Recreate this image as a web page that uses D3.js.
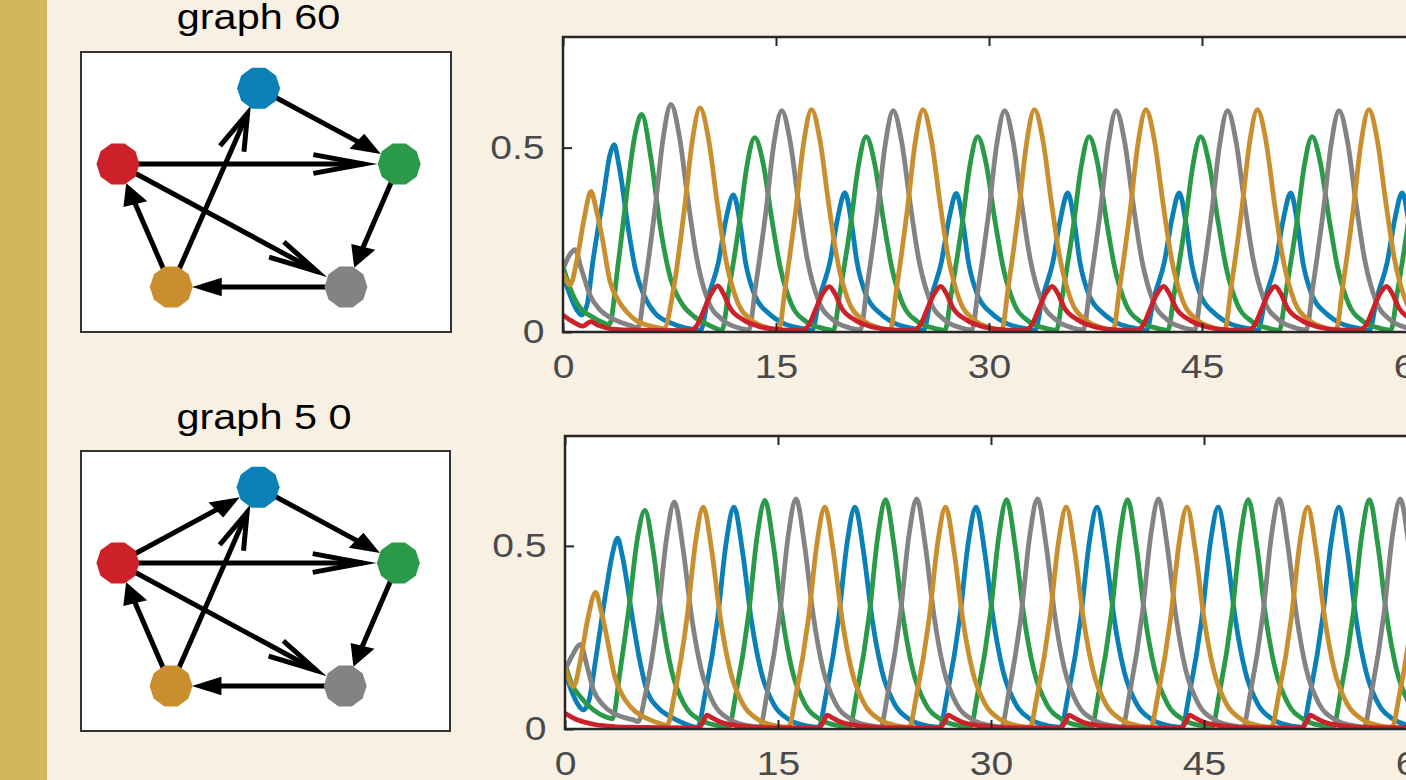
<!DOCTYPE html>
<html>
<head>
<meta charset="utf-8">
<script src="https://cdn.jsdelivr.net/npm/d3@7"></script>
<style>
  body { margin: 0; background: #f8f1e3; overflow: hidden; }
  svg { display: block; }
  text { font-family: "Liberation Sans", Arial, Helvetica, sans-serif; }
</style>
</head>
<body>
<div id="chart"></div>
<script>
// Graph layout (abstract units) and colours
const nodeNames = ["blue", "red", "green", "orange", "gray"];
const nodeX = [0, -0.95, 0.95, -0.59, 0.59];
const nodeY = [1, 0.31, 0.31, -0.81, -0.81];
const nodeColors = { blue: "#0a80b6", red: "#cc2128", green: "#2a9a48", orange: "#c98f2e", gray: "#838383" };

// edges: from, to, head type
const edges60 = [
  ["blue", "green", "filled"], ["red", "green", "open"], ["green", "gray", "filled"],
  ["red", "gray", "open"], ["gray", "orange", "filled"], ["orange", "red", "filled"],
  ["orange", "blue", "open"]
];
const edges50 = [
  ["blue", "green", "filled"], ["red", "green", "open"], ["green", "gray", "filled"],
  ["red", "gray", "open"], ["gray", "orange", "filled"], ["orange", "red", "filled"],
  ["orange", "blue", "open"], ["red", "blue", "filled"]
];

const graphTitles = ["graph 60", "graph 5 0"];
const xTicks = [0, 15, 30, 45, 60];
const yTicks = [0, 0.5];
const drawOrder = ["blue", "green", "gray", "orange", "red"];

// time series, graph 60: [t, value]
const blue60 = [
  [0,0.155],[0.5,0.1],[1,0.058],[1.3,0.046],[1.7,0.075],[2.1,0.19],[2.85,0.37],[3.3,0.48],[3.6,0.508],[3.95,0.45],[4.6,0.28],[5.1,0.17],[5.7,0.1],[6.5,0.05],[7.5,0.026],[8.6,0.011],[9.7,0.005],
  [10.2,0.09],[10.95,0.19],[11.5,0.31],[12,0.372],[12.45,0.3],[12.85,0.19],[13.5,0.1],[14.5,0.05],[15.6,0.022],[16.8,0.01],[17.55,0.005],
  [18.05,0.09],[18.8,0.19],[19.35,0.31],[19.85,0.378],[20.3,0.3],[20.7,0.19],[21.35,0.1],[22.35,0.05],[23.45,0.022],[24.65,0.01],[25.4,0.005],
  [25.9,0.09],[26.65,0.19],[27.2,0.31],[27.7,0.376],[28.15,0.3],[28.55,0.19],[29.2,0.1],[30.2,0.05],[31.3,0.022],[32.5,0.01],[33.25,0.005],
  [33.75,0.09],[34.5,0.19],[35.05,0.31],[35.55,0.377],[36,0.3],[36.4,0.19],[37.05,0.1],[38.05,0.05],[39.15,0.022],[40.35,0.01],[41.1,0.005],
  [41.6,0.09],[42.35,0.19],[42.9,0.31],[43.4,0.377],[43.85,0.3],[44.25,0.19],[44.9,0.1],[45.9,0.05],[47,0.022],[48.2,0.01],[48.95,0.005],
  [49.45,0.09],[50.2,0.19],[50.75,0.31],[51.25,0.377],[51.7,0.3],[52.1,0.19],[52.75,0.1],[53.75,0.05],[54.85,0.022],[56.05,0.01],[56.8,0.005],
  [57.3,0.09],[58.05,0.19],[58.6,0.31],[59.1,0.377],[59.55,0.3],[59.95,0.19],[60.6,0.1],[61.6,0.05]
];
const green60 = [
  [0,0.177],[0.7,0.1],[1.2,0.066],[2.1,0.04],[2.8,0.026],[3.25,0.02],[3.9,0.19],[4.48,0.372],[5.05,0.53],[5.54,0.59],[6.2,0.47],[6.83,0.29],[7.57,0.146],[8.4,0.075],[9.3,0.04],[10.2,0.02],
  [11.2,0.005],[11.65,0.106],[12.4,0.29],[12.95,0.45],[13.5,0.527],[14.1,0.456],[14.7,0.307],[15.3,0.175],[16.1,0.074],[17.1,0.029],[18.3,0.01],
  [19.05,0.005],[19.5,0.106],[20.25,0.29],[20.8,0.45],[21.35,0.53],[21.95,0.456],[22.55,0.307],[23.15,0.175],[23.95,0.074],[24.95,0.029],[26.15,0.01],
  [26.9,0.005],[27.35,0.106],[28.1,0.29],[28.65,0.45],[29.2,0.53],[29.8,0.456],[30.4,0.307],[31,0.175],[31.8,0.074],[32.8,0.029],[34,0.01],
  [34.75,0.005],[35.2,0.106],[35.95,0.29],[36.5,0.45],[37.05,0.53],[37.65,0.456],[38.25,0.307],[38.85,0.175],[39.65,0.074],[40.65,0.029],[41.85,0.01],
  [42.6,0.005],[43.05,0.106],[43.8,0.29],[44.35,0.45],[44.9,0.53],[45.5,0.456],[46.1,0.307],[46.7,0.175],[47.5,0.074],[48.5,0.029],[49.7,0.01],
  [50.45,0.005],[50.9,0.106],[51.65,0.29],[52.2,0.45],[52.75,0.53],[53.35,0.456],[53.95,0.307],[54.55,0.175],[55.35,0.074],[56.35,0.029],[57.55,0.01],
  [58.3,0.005],[58.75,0.106],[59.5,0.29],[60.05,0.45],[60.6,0.53],[61.2,0.456]
];
const gray60 = [
  [0,0.17],[0.4,0.205],[0.85,0.223],[1.3,0.17],[1.9,0.1],[2.6,0.06],[3.3,0.04],[4,0.027],[4.7,0.018],[5.3,0.012],
  [5.75,0.123],[6.5,0.34],[7.05,0.525],[7.6,0.617],[8.2,0.53],[8.8,0.358],[9.4,0.204],[10.2,0.086],[11.2,0.034],[12.4,0.011],
  [13.1,0.006],[13.55,0.12],[14.3,0.33],[14.85,0.51],[15.4,0.6],[16,0.516],[16.6,0.348],[17.2,0.198],[18,0.084],[19,0.033],[20.2,0.011],
  [20.95,0.006],[21.4,0.12],[22.15,0.33],[22.7,0.51],[23.25,0.6],[23.85,0.516],[24.45,0.348],[25.05,0.198],[25.85,0.084],[26.85,0.033],[28.05,0.011],
  [28.8,0.006],[29.25,0.12],[30,0.33],[30.55,0.51],[31.1,0.6],[31.7,0.516],[32.3,0.348],[32.9,0.198],[33.7,0.084],[34.7,0.033],[35.9,0.011],
  [36.65,0.006],[37.1,0.12],[37.85,0.33],[38.4,0.51],[38.95,0.6],[39.55,0.516],[40.15,0.348],[40.75,0.198],[41.55,0.084],[42.55,0.033],[43.75,0.011],
  [44.5,0.006],[44.95,0.12],[45.7,0.33],[46.25,0.51],[46.8,0.6],[47.4,0.516],[48,0.348],[48.6,0.198],[49.4,0.084],[50.4,0.033],[51.6,0.011],
  [52.35,0.006],[52.8,0.12],[53.55,0.33],[54.1,0.51],[54.65,0.6],[55.25,0.516],[55.85,0.348],[56.45,0.198],[57.25,0.084],[58.25,0.033],[59.45,0.011],
  [60.2,0.006],[60.65,0.12]
];
const orange60 = [
  [0,0.16],[0.5,0.128],[1,0.2],[1.5,0.31],[1.97,0.381],[2.35,0.33],[2.72,0.264],[3.31,0.137],[3.9,0.085],[4.48,0.055],[5.2,0.03],[5.9,0.019],[6.5,0.013],[7.1,0.009],
  [7.8,0.12],[8.55,0.334],[9.1,0.517],[9.65,0.608],[10.25,0.523],[10.85,0.353],[11.45,0.2],[12.25,0.085],[13.25,0.033],[14.45,0.011],
  [15.2,0.006],[15.65,0.12],[16.4,0.332],[16.95,0.513],[17.5,0.603],[18.1,0.519],[18.7,0.35],[19.3,0.199],[20.1,0.084],[21.1,0.033],[22.3,0.011],
  [23.05,0.006],[23.5,0.12],[24.25,0.332],[24.8,0.513],[25.35,0.603],[25.95,0.519],[26.55,0.35],[27.15,0.199],[27.95,0.084],[28.95,0.033],[30.15,0.011],
  [30.9,0.006],[31.35,0.12],[32.1,0.332],[32.65,0.513],[33.2,0.603],[33.8,0.519],[34.4,0.35],[35,0.199],[35.8,0.084],[36.8,0.033],[38,0.011],
  [38.75,0.006],[39.2,0.12],[39.95,0.332],[40.5,0.513],[41.05,0.603],[41.65,0.519],[42.25,0.35],[42.85,0.199],[43.65,0.084],[44.65,0.033],[45.85,0.011],
  [46.6,0.006],[47.05,0.12],[47.8,0.332],[48.35,0.513],[48.9,0.603],[49.5,0.519],[50.1,0.35],[50.7,0.199],[51.5,0.084],[52.5,0.033],[53.7,0.011],
  [54.45,0.006],[54.9,0.12],[55.65,0.332],[56.2,0.513],[56.75,0.603],[57.35,0.519],[57.95,0.35],[58.55,0.199],[59.35,0.084],[60.35,0.033],[61.55,0.011]
];
const red60 = [
  [0,0.046],[0.6,0.03],[1.4,0.016],[1.95,0.028],[2.5,0.018],[3.5,0.008],[5,0.005],
  [9,0.004],[9.5,0.022],[9.95,0.062],[10.45,0.105],[10.9,0.125],[11.3,0.104],[11.75,0.066],[12.7,0.033],[13.8,0.015],[15.4,0.006],
  [16.85,0.004],[17.35,0.022],[17.8,0.062],[18.3,0.105],[18.75,0.123],[19.15,0.104],[19.6,0.066],[20.55,0.033],[21.65,0.015],[23.25,0.006],
  [24.7,0.004],[25.2,0.022],[25.65,0.062],[26.15,0.105],[26.6,0.124],[27,0.104],[27.45,0.066],[28.4,0.033],[29.5,0.015],[31.1,0.006],
  [32.55,0.004],[33.05,0.022],[33.5,0.062],[34,0.105],[34.45,0.124],[34.85,0.104],[35.3,0.066],[36.25,0.033],[37.35,0.015],[38.95,0.006],
  [40.4,0.004],[40.9,0.022],[41.35,0.062],[41.85,0.105],[42.3,0.124],[42.7,0.104],[43.15,0.066],[44.1,0.033],[45.2,0.015],[46.8,0.006],
  [48.25,0.004],[48.75,0.022],[49.2,0.062],[49.7,0.105],[50.15,0.124],[50.55,0.104],[51,0.066],[51.95,0.033],[53.05,0.015],[54.65,0.006],
  [56.1,0.004],[56.6,0.022],[57.05,0.062],[57.55,0.105],[58,0.124],[58.4,0.104],[58.85,0.066],[59.8,0.033],[60.9,0.015]
];

// time series, graph 5 0
const blue50 = [
  [0,0.157],[0.5,0.1],[1,0.062],[1.3,0.052],[1.7,0.08],[2.2,0.2],[2.9,0.38],[3.35,0.48],[3.7,0.521],[4.05,0.47],[4.8,0.29],[5.3,0.18],[5.75,0.107],[6.5,0.06],[7.4,0.034],[8.4,0.015],
  [9.35,0.005],[9.85,0.091],[10.75,0.303],[11.35,0.509],[11.9,0.606],[12.5,0.485],[13.1,0.303],[13.8,0.158],[14.7,0.067],[15.8,0.025],[17.1,0.008],
  [17.87,0.005],[18.37,0.091],[19.27,0.303],[19.87,0.509],[20.42,0.606],[21.02,0.485],[21.62,0.303],[22.32,0.158],[23.22,0.067],[24.32,0.025],[25.62,0.008],
  [26.4,0.005],[26.9,0.091],[27.8,0.303],[28.4,0.509],[28.95,0.606],[29.55,0.485],[30.15,0.303],[30.85,0.158],[31.75,0.067],[32.85,0.025],[34.15,0.008],
  [34.92,0.005],[35.42,0.091],[36.32,0.303],[36.92,0.509],[37.47,0.606],[38.07,0.485],[38.67,0.303],[39.37,0.158],[40.27,0.067],[41.37,0.025],[42.67,0.008],
  [43.45,0.005],[43.95,0.091],[44.85,0.303],[45.45,0.509],[46,0.606],[46.6,0.485],[47.2,0.303],[47.9,0.158],[48.8,0.067],[49.9,0.025],[51.2,0.008],
  [51.95,0.005],[52.45,0.091],[53.35,0.303],[53.95,0.509],[54.5,0.606],[55.1,0.485],[55.7,0.303],[56.4,0.158],[57.3,0.067],[58.4,0.025],[59.7,0.008],
  [60.45,0.005],[60.95,0.091]
];
const green50 = [
  [0,0.18],[0.5,0.12],[1.06,0.089],[2,0.052],[2.8,0.034],[3.35,0.028],[3.85,0.15],[4.5,0.33],[5.1,0.52],[5.63,0.597],[6.2,0.49],[6.8,0.31],[7.5,0.16],[8.4,0.067],[9.5,0.025],[10.8,0.009],
  [11.53,0.005],[12.03,0.094],[12.93,0.313],[13.53,0.526],[14.08,0.624],[14.68,0.5],[15.28,0.313],[15.98,0.163],[16.88,0.069],[17.98,0.026],[19.28,0.009],
  [20.03,0.005],[20.53,0.094],[21.43,0.313],[22.03,0.526],[22.58,0.626],[23.18,0.5],[23.78,0.313],[24.48,0.163],[25.38,0.069],[26.48,0.026],[27.78,0.009],
  [28.55,0.005],[29.05,0.094],[29.95,0.313],[30.55,0.526],[31.1,0.626],[31.7,0.5],[32.3,0.313],[33,0.163],[33.9,0.069],[35,0.026],[36.3,0.009],
  [37.07,0.005],[37.57,0.094],[38.47,0.313],[39.07,0.526],[39.62,0.626],[40.22,0.5],[40.82,0.313],[41.52,0.163],[42.42,0.069],[43.52,0.026],[44.82,0.009],
  [45.57,0.005],[46.07,0.094],[46.97,0.313],[47.57,0.526],[48.12,0.626],[48.72,0.5],[49.32,0.313],[50.02,0.163],[50.92,0.069],[52.02,0.026],[53.32,0.009],
  [54.1,0.005],[54.6,0.094],[55.5,0.313],[56.1,0.526],[56.65,0.626],[57.25,0.5],[57.85,0.313],[58.55,0.163],[59.45,0.069],[60.55,0.026]
];
const gray50 = [
  [0,0.16],[0.5,0.2],[1.1,0.231],[1.5,0.18],[2,0.107],[2.7,0.065],[3.4,0.043],[4.1,0.032],[4.8,0.025],[5.15,0.02],
  [5.65,0.093],[6.55,0.31],[7.15,0.52],[7.7,0.62],[8.3,0.496],[8.9,0.31],[9.6,0.161],[10.5,0.068],[11.6,0.026],[12.9,0.009],
  [13.72,0.005],[14.22,0.094],[15.12,0.314],[15.72,0.528],[16.27,0.628],[16.87,0.502],[17.47,0.314],[18.17,0.163],[19.07,0.069],[20.17,0.026],[21.47,0.009],
  [22.22,0.005],[22.72,0.094],[23.62,0.314],[24.22,0.528],[24.77,0.628],[25.37,0.502],[25.97,0.314],[26.67,0.163],[27.57,0.069],[28.67,0.026],[29.97,0.009],
  [30.73,0.005],[31.23,0.094],[32.13,0.314],[32.73,0.528],[33.28,0.628],[33.88,0.502],[34.48,0.314],[35.18,0.163],[36.08,0.069],[37.18,0.026],[38.48,0.009],
  [39.25,0.005],[39.75,0.094],[40.65,0.314],[41.25,0.528],[41.8,0.628],[42.4,0.502],[43,0.314],[43.7,0.163],[44.6,0.069],[45.7,0.026],[47,0.009],
  [47.75,0.005],[48.25,0.094],[49.15,0.314],[49.75,0.528],[50.3,0.628],[50.9,0.502],[51.5,0.314],[52.2,0.163],[53.1,0.069],[54.2,0.026],[55.5,0.009],
  [56.27,0.005],[56.77,0.094],[57.67,0.314],[58.27,0.528],[58.82,0.628],[59.42,0.502],[60.02,0.314],[60.72,0.163]
];
const orange50 = [
  [0,0.167],[0.6,0.116],[1.1,0.19],[1.6,0.3],[2.16,0.373],[2.5,0.33],[2.93,0.254],[3.5,0.144],[4,0.095],[4.6,0.061],[5.3,0.038],[6,0.025],[6.6,0.016],[7.2,0.01],
  [7.69,0.091],[8.59,0.303],[9.19,0.509],[9.74,0.606],[10.34,0.485],[10.94,0.303],[11.64,0.158],[12.54,0.067],[13.64,0.025],[14.94,0.008],
  [15.75,0.005],[16.25,0.091],[17.15,0.303],[17.75,0.509],[18.3,0.606],[18.9,0.485],[19.5,0.303],[20.2,0.158],[21.1,0.067],[22.2,0.025],[23.5,0.008],
  [24.25,0.005],[24.75,0.091],[25.65,0.303],[26.25,0.509],[26.8,0.606],[27.4,0.485],[28,0.303],[28.7,0.158],[29.6,0.067],[30.7,0.025],[32,0.008],
  [32.75,0.005],[33.25,0.091],[34.15,0.303],[34.75,0.509],[35.3,0.606],[35.9,0.485],[36.5,0.303],[37.2,0.158],[38.1,0.067],[39.2,0.025],[40.5,0.008],
  [41.25,0.005],[41.75,0.091],[42.65,0.303],[43.25,0.509],[43.8,0.606],[44.4,0.485],[45,0.303],[45.7,0.158],[46.6,0.067],[47.7,0.025],[49,0.008],
  [49.75,0.005],[50.25,0.091],[51.15,0.303],[51.75,0.509],[52.3,0.606],[52.9,0.485],[53.5,0.303],[54.2,0.158],[55.1,0.067],[56.2,0.025],[57.5,0.008],
  [58.25,0.005],[58.75,0.091],[59.65,0.303],[60.25,0.509],[60.8,0.606]
];
const red50 = [
  [0,0.043],[0.5,0.032],[1,0.023],[2,0.013],[3,0.008],[4.5,0.005],[6.5,0.004],
  [9.4,0.003],[9.7,0.018],[10,0.038],[10.3,0.032],[10.9,0.02],[11.8,0.011],[13,0.006],[14.5,0.004],
  [17.87,0.003],[18.17,0.018],[18.47,0.038],[18.77,0.032],[19.37,0.02],[20.27,0.011],[21.47,0.006],[22.97,0.004],
  [26.4,0.003],[26.7,0.018],[27,0.038],[27.3,0.032],[27.9,0.02],[28.8,0.011],[30,0.006],[31.5,0.004],
  [34.9,0.003],[35.2,0.018],[35.5,0.038],[35.8,0.032],[36.4,0.02],[37.3,0.011],[38.5,0.006],[40,0.004],
  [43.4,0.003],[43.7,0.018],[44,0.038],[44.3,0.032],[44.9,0.02],[45.8,0.011],[47,0.006],[48.5,0.004],
  [51.9,0.003],[52.2,0.018],[52.5,0.038],[52.8,0.032],[53.4,0.02],[54.3,0.011],[55.5,0.006],[57,0.004],
  [60.4,0.003],[60.7,0.018],[61,0.038]
];

const rowSeries = [
  { blue: blue60, green: green60, gray: gray60, orange: orange60, red: red60 },
  { blue: blue50, green: green50, gray: gray50, orange: orange50, red: red50 }
];
const rowEdges = [edges60, edges50];

// Layout
const dimensions = {
  width: 1406,
  height: 780,
  strip: 47,
  textStretch: 1.15,
  nodeR: 21.5,
  rows: [
    { title: { x: 258.5, y: 29 }, graph: { left: 81, right: 451, top: 52, bottom: 332 }, plot: { left: 563, top: 37, bottom: 332 } },
    { title: { x: 264, y: 429 }, graph: { left: 81, right: 450, top: 451, bottom: 731 }, plot: { left: 565, top: 436, bottom: 729 } }
  ]
};

const wrapper = d3.select("#chart")
  .append("svg")
  .attr("width", dimensions.width)
  .attr("height", dimensions.height);

wrapper.append("rect")
  .attr("width", dimensions.width).attr("height", dimensions.height)
  .attr("fill", "#f8f1e3");

wrapper.append("rect")
  .attr("width", dimensions.strip).attr("height", dimensions.height)
  .attr("fill", "#d4b65c");

dimensions.rows.forEach((row, i) => {
  // title
  wrapper.append("text")
    .text(graphTitles[i])
    .attr("transform", `translate(${row.title.x},${row.title.y}) scale(${dimensions.textStretch},1)`)
    .attr("text-anchor", "middle")
    .attr("font-size", 36)
    .attr("fill", "#000");

  drawGraph(row.graph, rowEdges[i]);
  drawPlot(row.plot, rowSeries[i], i);
});

function drawGraph(box, edges) {
  const gx = d3.scaleLinear().domain([-1.2, 1.3]).range([box.left, box.right]);
  const gy = d3.scaleLinear().domain([-1.22, 1.33]).range([box.bottom, box.top]);

  const g = wrapper.append("g");
  g.append("rect")
    .attr("x", box.left).attr("y", box.top)
    .attr("width", box.right - box.left).attr("height", box.bottom - box.top)
    .attr("fill", "#fff").attr("stroke", "#333").attr("stroke-width", 2);

  // node radius expressed in layout units (markers are round on screen)
  const rx = dimensions.nodeR / (gx(1) - gx(0));
  const ry = dimensions.nodeR / (gy(0) - gy(1));
  const pt = p => [gx(p[0]), gy(p[1])];
  const edgeWidth = 5;

  edges.forEach(([from, to, head]) => {
    const s = nodeNames.indexOf(from), t = nodeNames.indexOf(to);
    let dx = nodeX[t] - nodeX[s], dy = nodeY[t] - nodeY[s];
    const len = Math.hypot(dx, dy);
    dx /= len; dy /= len;
    const px = -dy, py = dx;
    const S = [nodeX[s], nodeY[s]], T = [nodeX[t], nodeY[t]];

    if (head === "filled") {
      const rb = 0.97 / Math.hypot(dx / rx, dy / ry);
      const tip = [T[0] - rb * dx, T[1] - rb * dy];
      const L = 0.2, W = 0.085;
      const base = [tip[0] - L * dx, tip[1] - L * dy];
      g.append("line")
        .attr("x1", gx(S[0])).attr("y1", gy(S[1]))
        .attr("x2", gx(base[0] + 0.03 * dx)).attr("y2", gy(base[1] + 0.03 * dy))
        .attr("stroke", "#000").attr("stroke-width", edgeWidth);
      g.append("polygon")
        .attr("points", [tip, [base[0] + W * px, base[1] + W * py], [base[0] - W * px, base[1] - W * py]].map(pt).join(" "))
        .attr("fill", "#000");
    } else {
      const tip = [T[0] - 0.24 * dx, T[1] - 0.24 * dy];
      const base = [tip[0] - 0.34 * dx, tip[1] - 0.34 * dy];
      const W = 0.085;
      g.append("line")
        .attr("x1", gx(S[0])).attr("y1", gy(S[1]))
        .attr("x2", gx(tip[0])).attr("y2", gy(tip[1]))
        .attr("stroke", "#000").attr("stroke-width", edgeWidth);
      g.append("polyline")
        .attr("points", [[base[0] + W * px, base[1] + W * py], tip, [base[0] - W * px, base[1] - W * py]].map(pt).join(" "))
        .attr("fill", "none").attr("stroke", "#000").attr("stroke-width", edgeWidth)
        .attr("stroke-linejoin", "miter").attr("stroke-miterlimit", 20);
    }
  });

  // nodes as decagons
  g.selectAll(".node")
    .data(nodeNames)
    .join("polygon")
      .attr("class", "node")
      .attr("points", (d, k) => {
        const cx = gx(nodeX[k]), cy = gy(nodeY[k]);
        return d3.range(10).map(j => {
          const a = j * Math.PI / 5;
          return [cx + dimensions.nodeR * Math.cos(a), cy - dimensions.nodeR * Math.sin(a)];
        }).join(" ");
      })
      .attr("fill", d => nodeColors[d]);
}

function drawPlot(p, series, i) {
  const xScale = d3.scaleLinear().domain([0, 60]).range([p.left, p.left + 852]);
  const yScale = d3.scaleLinear().domain([0, 0.8]).range([p.bottom, p.top]);

  const bounds = wrapper.append("g");

  bounds.append("rect")
    .attr("x", xScale(0)).attr("y", yScale(0.8))
    .attr("width", xScale(60) - xScale(0)).attr("height", yScale(0) - yScale(0.8))
    .attr("fill", "#fff");

  bounds.append("clipPath").attr("id", "clip" + i)
    .append("rect")
    .attr("x", xScale(0)).attr("y", yScale(0.8))
    .attr("width", xScale(60) - xScale(0)).attr("height", yScale(0) - yScale(0.8));

  const lineGenerator = d3.line()
    .x(d => xScale(d[0]))
    .y(d => yScale(d[1]))
    .curve(d3.curveMonotoneX);

  bounds.append("g")
    .attr("clip-path", `url(#clip${i})`)
    .selectAll("path")
    .data(drawOrder)
    .join("path")
      .attr("d", d => lineGenerator(series[d]))
      .attr("fill", "none")
      .attr("stroke", d => nodeColors[d])
      .attr("stroke-width", 4.8)
      .attr("stroke-linejoin", "round");

  const styleAxis = a => {
    a.select(".domain").remove();
    a.selectAll("line").attr("stroke", "#262626").attr("stroke-width", 2);
    a.selectAll("text")
      .attr("font-size", 34)
      .attr("fill", "#4a4a4a")
      .attr("transform", `scale(${dimensions.textStretch},1)`);
  };

  const xAxisGenerator = d3.axisBottom(xScale)
    .tickValues(xTicks).tickSize(-9).tickPadding(22)
    .tickFormat(d3.format("~g"));
  bounds.append("g")
    .attr("transform", `translate(0,${yScale(0)})`)
    .call(xAxisGenerator).call(styleAxis);

  const yAxisGenerator = d3.axisLeft(yScale)
    .tickValues(yTicks).tickSize(-9).tickPadding(16)
    .tickFormat(d3.format("~g"));
  bounds.append("g")
    .attr("transform", `translate(${xScale(0)},0)`)
    .call(yAxisGenerator).call(styleAxis);

  bounds.append("g")
    .attr("transform", `translate(0,${yScale(0.8)})`)
    .call(d3.axisTop(xScale).tickValues(xTicks).tickSize(-9).tickFormat(() => ""))
    .call(styleAxis);

  bounds.append("g")
    .attr("transform", `translate(${xScale(60)},0)`)
    .call(d3.axisRight(yScale).tickValues(yTicks).tickSize(-9).tickFormat(() => ""))
    .call(styleAxis);

  // box
  bounds.append("rect")
    .attr("x", xScale(0)).attr("y", yScale(0.8))
    .attr("width", xScale(60) - xScale(0)).attr("height", yScale(0) - yScale(0.8))
    .attr("fill", "none").attr("stroke", "#262626").attr("stroke-width", 2.5);
}
</script>
</body>
</html>
